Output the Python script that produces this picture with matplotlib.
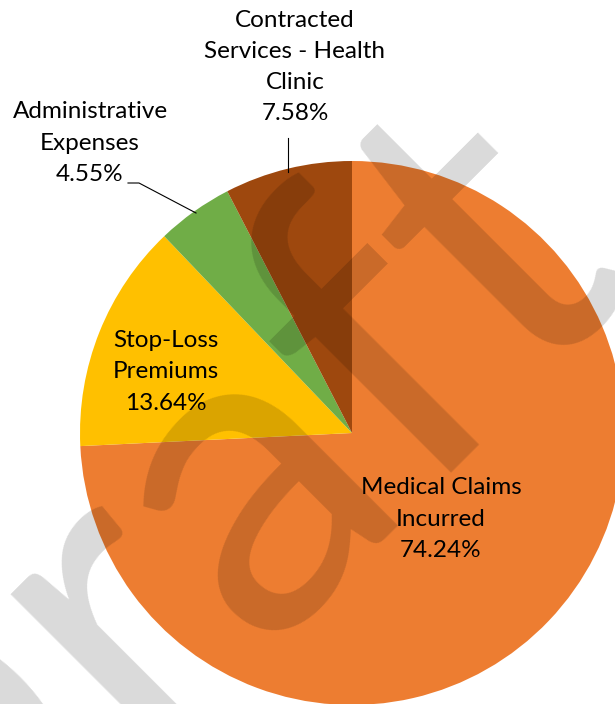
import matplotlib
matplotlib.use("Agg")
import matplotlib.pyplot as plt

plt.rcParams['font.family'] = ['Lato', 'DejaVu Sans']

# Данные
categories = ["Medical Claims\nIncurred", "Stop-Loss\nPremiums",
              "Administrative\nExpenses", "Contracted\nServices - Health\nClinic"]
shares = [74.24, 13.64, 4.55, 7.58]
colors = ["#ED7D31", "#FFC000", "#70AD47", "#9E480E"]

W, H = 615, 704
cx, cy, R = 352, 433, 272  # центр и радиус круга в пикселях

fig = plt.figure(figsize=(W / 100, H / 100), dpi=100)
ax = fig.add_axes([0, 0, 1, 1])
wedges, _ = ax.pie(shares, colors=colors, startangle=90, counterclock=False,
                   radius=1, wedgeprops=dict(linewidth=0))
ax.set_xlim(-cx / R, (W - cx) / R)
ax.set_ylim(-(H - cy) / R, cy / R)
ax.set_aspect('equal')
ax.axis('off')


def px(x, y):
    """Перевод пикселей картинки в координаты данных."""
    return (x - cx) / R, (cy - y) / R


# Подписи: (x, y) центра блока текста в пикселях
label_pos = [(441, 519), (166, 372), (90, 143), (295, 67)]
for name, val, (x, y) in zip(categories, shares, label_pos):
    tx, ty = px(x, y)
    ax.text(tx, ty, f"{name}\n{val:.2f}%", ha='center', va='center',
            fontsize=17.5, linespacing=1.6, color='black')

# Линии-выноски
lx, ly = zip(px(288, 138), px(288, 172))
ax.plot(lx, ly, color='black', lw=0.8)
lx, ly = zip(px(128, 183), px(139, 183), px(196, 213))
ax.plot(lx, ly, color='black', lw=0.8)

# Водяной знак
fig.text(175 / W, 1 - 530 / H, "Draft", rotation=45, rotation_mode='anchor',
         ha='center', va='center', fontsize=320, color='black', alpha=0.15)

fig.savefig("out.png", dpi=100)
